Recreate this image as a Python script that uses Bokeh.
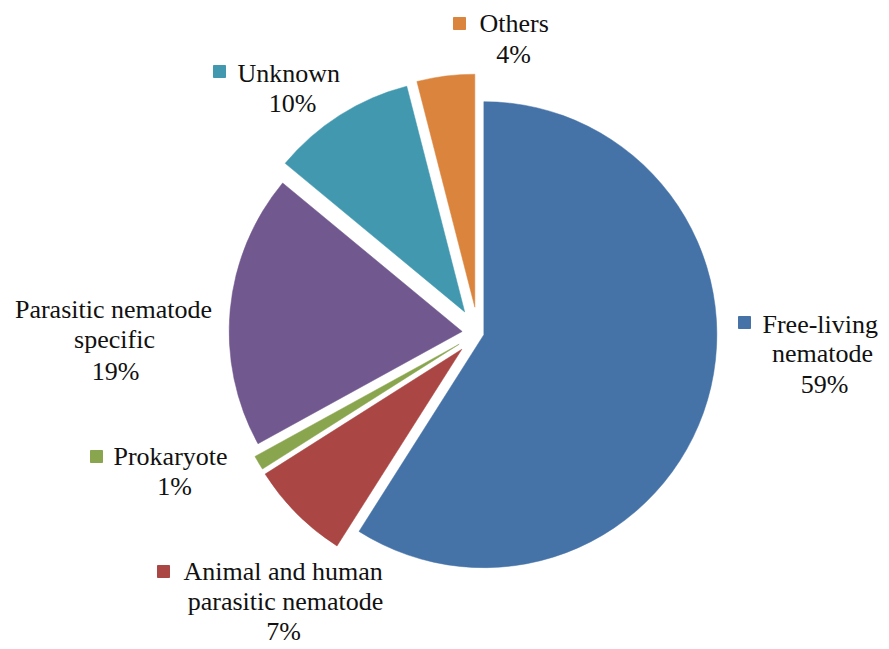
import math
from bokeh.plotting import figure
from bokeh.models import Range1d, ColumnDataSource, Label
from bokeh.embed import file_html
from bokeh.resources import INLINE

# ---- data ----
categories = ["Free-living nematode", "Animal and human parasitic nematode", "Prokaryote",
              "Parasitic nematode specific", "Unknown", "Others"]
percents = [59, 7, 1, 19, 10, 4]
colors = ["#4572A7", "#AA4643", "#89A54E", "#71588F", "#4198AF", "#DB843D"]

# ---- layout / style ----
W, H = 889, 649
center_x, center_y = 477.6, 649 - 332.5   # pie centre (data units = px)
radius = 233
explode = [6, 23, 22, 16, 25, 26]          # per-slice pull-out distance (px)
FONT = "'Liberation Serif', 'Times New Roman', serif"
FSIZE = "26px"
BASELINE_SHIFT = 9

# label layout in page pixel coordinates: (marker or None, [(line index / "pct", x, baseline_y, align)])
label_layout = [
    ((744, 322), [(0, 762, 333, "left"), (1, 822, 362, "center"), ("pct", 824, 393, "center")]),
    ((163, 571), [(0, 183, 580, "left"), (1, 285, 610, "center"), ("pct", 283, 640, "center")]),
    ((96, 456), [(0, 113, 465, "left"), ("pct", 174, 495, "center")]),
    (None, [(0, 113, 318, "center"), (1, 114, 348, "center"), ("pct", 115, 380, "center")]),
    ((219, 71), [(0, 237, 82, "left"), ("pct", 292, 112, "center")]),
    ((459, 23), [(0, 479, 32, "left"), ("pct", 513, 63, "center")]),
]
label_lines = [
    ["Free-living", "nematode"],
    ["Animal and human", "parasitic nematode"],
    ["Prokaryote"],
    ["Parasitic nematode", "specific"],
    ["Unknown"],
    ["Others"],
]


def px(x, y):
    return x, H - y


p = figure(width=W, height=H, output_backend="svg", toolbar_location=None,
           x_range=Range1d(0, W), y_range=Range1d(0, H),
           x_axis_location=None, y_axis_location=None, min_border=0,
           outline_line_color=None)
p.grid.visible = False
p.background_fill_color = "white"

total = sum(percents)
xs, ys, starts, ends = [], [], [], []
cum = 0.0
for v, d in zip(percents, explode):
    a_s = 2 * math.pi * cum / total
    cum += v
    a_e = 2 * math.pi * cum / total
    a_m = (a_s + a_e) / 2
    xs.append(center_x + d * math.sin(a_m))
    ys.append(center_y + d * math.cos(a_m))
    starts.append(math.pi / 2 - a_e)
    ends.append(math.pi / 2 - a_s)

src = ColumnDataSource(dict(x=xs, y=ys, start=starts, end=ends, color=colors))
p.wedge(x="x", y="y", radius=radius, start_angle="start", end_angle="end",
        direction="anticlock", fill_color="color", line_color="color", line_width=0.5,
        source=src)

mx, my, mc = [], [], []
for i, (marker, lines) in enumerate(label_layout):
    if marker is not None:
        a, b = px(*marker)
        mx.append(a); my.append(b); mc.append(colors[i])
    for kind, x, y, align in lines:
        s = f"{percents[i]}%" if kind == "pct" else label_lines[i][kind]
        a, b = px(x, y - BASELINE_SHIFT)
        p.add_layout(Label(x=a, y=b, text=s, text_align=align, text_baseline="alphabetic",
                           text_font=FONT, text_font_size=FSIZE, text_color="#111111"))

p.scatter(mx, my, marker="square", size=12, fill_color=mc, line_color=mc)

open("out.html", "w").write(file_html(p, INLINE))
